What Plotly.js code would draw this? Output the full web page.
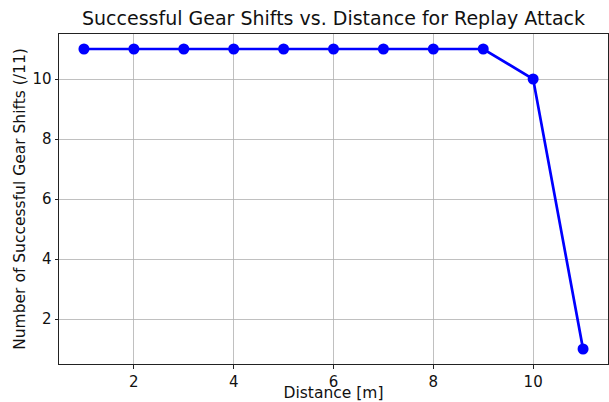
<!DOCTYPE html>
<html><head><meta charset="utf-8">
<script src="https://cdn.plot.ly/plotly-3.0.1.min.js"></script>
<style>html,body{margin:0;padding:0;background:#fff}#c{width:609px;height:402px}</style>
</head><body><div id="c"></div>
<script>
const distance = [1,2,3,4,5,6,7,8,9,10,11];
const successfulShifts = [11,11,11,11,11,11,11,11,11,10,1];
const xTicks = [2,4,6,8,10];
const yTicks = [2,4,6,8,10];

const trace = {
  x: distance, y: successfulShifts, type: 'scatter', mode: 'lines+markers',
  line: {color: '#0000ff', width: 2.7},
  marker: {color: '#0000ff', size: 11}
};
function ax(ticks, titleText, standoff) {
  return {
    range: [0.5, 11.5], tickmode: 'array', tickvals: ticks,
    showline: true, mirror: true, linecolor: '#222', linewidth: 1,
    ticks: 'outside', ticklen: 3.5, tickcolor: '#222', tickwidth: 1,
    showgrid: true, gridcolor: '#b0b0b0', gridwidth: 0.8, zeroline: false,
    tickfont: {family: 'DejaVu Sans', size: 15, color: '#111'},
    automargin: false,
    title: {text: titleText, font: {family: 'DejaVu Sans', size: 15.5, color: '#111'}, standoff: standoff}
  };
}
const layout = {
  width: 609, height: 402,
  margin: {l: 59, r: 1, t: 34, b: 38},
  paper_bgcolor: '#fff', plot_bgcolor: '#fff',
  showlegend: false,
  title: {text: 'Successful Gear Shifts vs. Distance for Replay Attack',
    font: {family: 'DejaVu Sans', size: 19, color: '#111'},
    automargin: false,
    xref: 'paper', x: 0.5, xanchor: 'center', yref: 'container', y: 0.97, yanchor: 'top'},
  xaxis: ax(xTicks, 'Distance [m]', 7),
  yaxis: ax(yTicks, 'Number of Successful Gear Shifts (/11)', 2)
};
Plotly.newPlot('c', [trace], layout, {displayModeBar: false, staticPlot: true});
</script></body></html>
